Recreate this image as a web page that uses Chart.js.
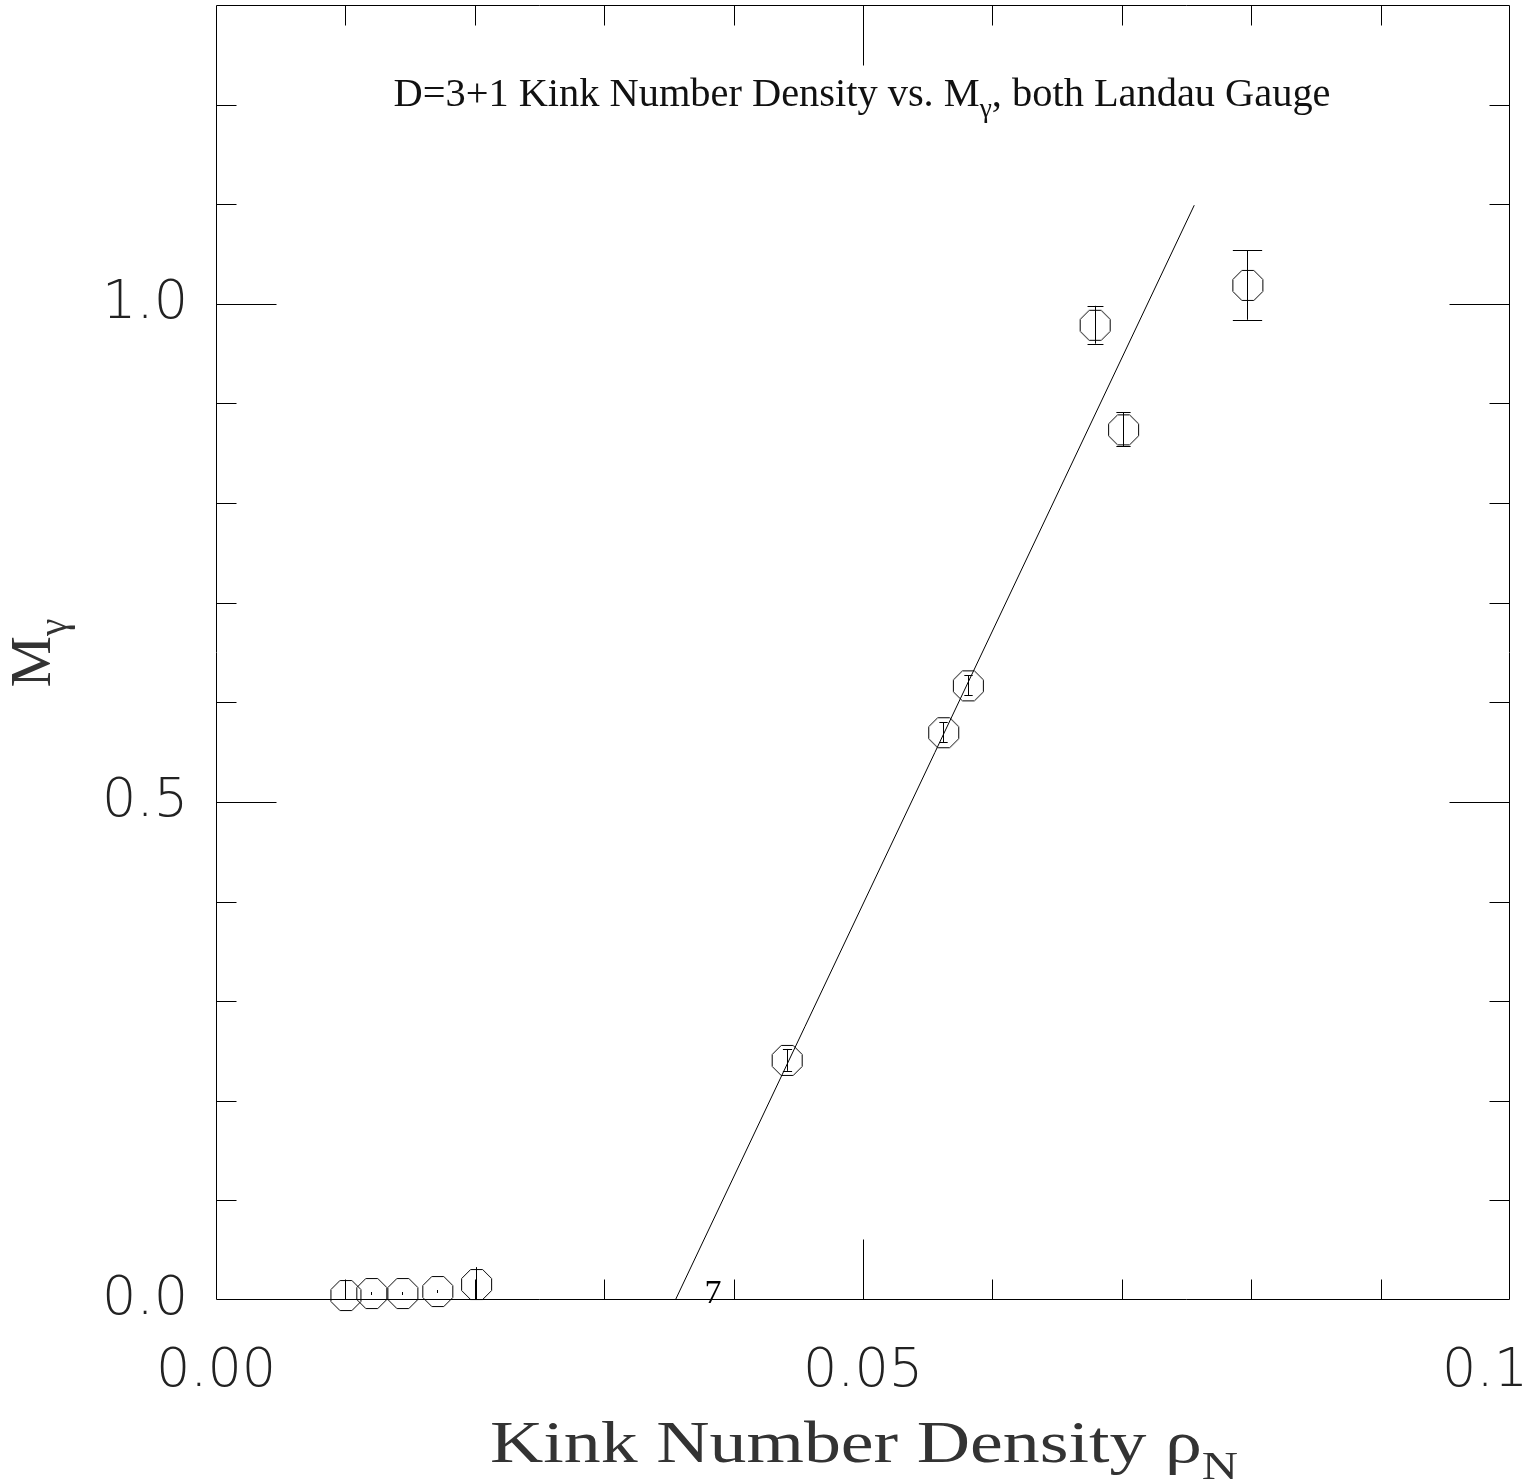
<!DOCTYPE html>
<html>
<head>
<meta charset="utf-8">
<script src="https://cdn.jsdelivr.net/npm/chart.js@4/dist/chart.umd.min.js"></script>
<style>
  html, body { margin: 0; padding: 0; background: #fff; }
  #chartKinkDensity { display: block; }
</style>
</head>
<body>
<canvas id="chartKinkDensity" width="1530" height="1479"></canvas>
<script>
/** Data: kink number density vs photon mass */
const kinkDensity   = [0.0100, 0.0120, 0.0144, 0.0171, 0.0201, 0.0441, 0.0562, 0.0581, 0.0679, 0.0701, 0.0797];
const photonMass    = [0.005, 0.007, 0.007, 0.009, 0.016, 0.241, 0.570, 0.617, 0.979, 0.874, 1.019];
const photonMassErr = [0.015, 0.001, 0.001, 0.001, 0.017, 0.011, 0.010, 0.010, 0.019, 0.017, 0.035];

/** straight line fit, two end points */
const fitX = [0.0355, 0.0756];
const fitY = [0.0, 1.099];

/** axis ticks and labels */
const xMinorTicks = [0.01, 0.02, 0.03, 0.04, 0.06, 0.07, 0.08, 0.09];
const xMajorTicks = [0.05];
const yMinorTicks = [0.1, 0.2, 0.3, 0.4, 0.6, 0.7, 0.8, 0.9, 1.1, 1.2];
const yMajorTicks = [0.5, 1.0];
const xTickValues = [0.0, 0.05, 0.1];
const xTickLabels = ['0.00', '0.05', '0.1'];
const yTickValues = [0.0, 0.5, 1.0];
const yTickLabels = ['0.0', '0.5', '1.0'];

/** stray marker label near the axis */
const strayLabel = { x: 0.0384, y: 0.0, text: '7' };

const titleParts  = [['D=3+1 Kink Number Density vs. M', false], ['γ', true], [', both Landau Gauge', false]];
const xTitleParts = [['Kink Number Density ', false], ['ρ', false], ['N', true]];
const yTitleParts = [['M', false], ['γ', true]];

const SERIF = '"Liberation Serif", "DejaVu Serif", serif';
const NUMFONT = '"DejaVu Sans", "Liberation Sans", sans-serif';

/** octagon marker used as point style */
function makeOctagon(size, r) {
  const c = document.createElement('canvas');
  c.width = size; c.height = size;
  const g = c.getContext('2d');
  g.strokeStyle = '#000';
  g.lineWidth = 1;
  g.beginPath();
  for (let k = 0; k < 8; k++) {
    const a = (22.5 + 45 * k) * Math.PI / 180;
    const px = Math.round(size / 2 + r * Math.cos(a)) + 0.5;
    const py = Math.round(size / 2 + r * Math.sin(a)) + 0.5;
    if (k === 0) g.moveTo(px, py); else g.lineTo(px, py);
  }
  g.closePath();
  g.stroke();
  return c;
}
const _octagon = makeOctagon(34, 15.8);

/** text with subscripts, squeezed to a given width if asked */
function drawRich(ctx, parts, x, y, size, family, width) {
  const subSize = size * 0.68;
  let total = 0;
  const widths = parts.map(([t, sub]) => {
    ctx.font = (sub ? subSize : size) + 'px ' + family;
    const w = ctx.measureText(t).width;
    total += w;
    return w;
  });
  const sx = width ? width / total : 1;
  ctx.save();
  ctx.translate(x, y);
  ctx.scale(sx, 1);
  ctx.textAlign = 'left';
  ctx.textBaseline = 'alphabetic';
  let cx = -total / 2;
  parts.forEach(([t, sub], i) => {
    ctx.font = (sub ? subSize : size) + 'px ' + family;
    ctx.fillText(t, cx, sub ? size * 0.28 : 0);
    cx += widths[i];
  });
  ctx.restore();
}

/** error bars, drawn through the scales */
const errorBarPlugin = {
  id: 'errorBars',
  afterDatasetsDraw(chart) {
    const ctx = chart.ctx;
    const xs = chart.scales.x, ys = chart.scales.y;
    const area = chart.chartArea;
    ctx.save();
    ctx.strokeStyle = '#000';
    ctx.lineWidth = 1;
    kinkDensity.forEach((xv, i) => {
      const lo = photonMass[i] - photonMassErr[i];
      const hi = photonMass[i] + photonMassErr[i];
      const px = Math.round(xs.getPixelForValue(xv)) + 0.5;
      const yTop = ys.getPixelForValue(hi);
      const yBot = Math.min(ys.getPixelForValue(lo), area.bottom);
      ctx.beginPath();
      ctx.moveTo(px, yTop);
      ctx.lineTo(px, yBot);
      if (lo > 0) {
        const half = Math.max(0.21 * (yBot - yTop), 0.5);
        ctx.moveTo(px - half, Math.round(yTop) + 0.5);
        ctx.lineTo(px + half, Math.round(yTop) + 0.5);
        ctx.moveTo(px - half, Math.round(yBot) + 0.5);
        ctx.lineTo(px + half, Math.round(yBot) + 0.5);
      }
      ctx.stroke();
    });
    ctx.restore();
  }
};

/** frame, inward ticks, tick labels and titles */
const framePlugin = {
  id: 'frame',
  afterDraw(chart) {
    const ctx = chart.ctx;
    const xs = chart.scales.x, ys = chart.scales.y;
    const a = chart.chartArea;
    const L = a.left + 0.5, R = a.right - 0.5, T = a.top + 0.5, B = a.bottom - 0.5;
    ctx.save();
    ctx.strokeStyle = '#000';
    ctx.lineWidth = 1;
    ctx.beginPath();
    ctx.rect(L, T, R - L, B - T);
    const xTick = (v, len) => {
      const p = Math.round(xs.getPixelForValue(v)) + 0.5;
      ctx.moveTo(p, B); ctx.lineTo(p, B - len);
      ctx.moveTo(p, T); ctx.lineTo(p, T + len);
    };
    const yTick = (v, len) => {
      const p = Math.round(ys.getPixelForValue(v)) + 0.5;
      ctx.moveTo(L, p); ctx.lineTo(L + len, p);
      ctx.moveTo(R, p); ctx.lineTo(R - len, p);
    };
    xMinorTicks.forEach(v => xTick(v, 20));
    xMajorTicks.forEach(v => xTick(v, 60));
    yMinorTicks.forEach(v => yTick(v, 20));
    yMajorTicks.forEach(v => yTick(v, 60));
    ctx.stroke();

    ctx.fillStyle = '#222';
    ctx.font = '200 54px ' + NUMFONT;
    ctx.textBaseline = 'middle';
    ctx.textAlign = 'right';
    yTickValues.forEach((v, i) => {
      ctx.fillText(yTickLabels[i], a.left - 28, ys.getPixelForValue(v));
    });
    ctx.textAlign = 'center';
    xTickValues.forEach((v, i) => {
      let p = xs.getPixelForValue(v);
      const w = ctx.measureText(xTickLabels[i]).width;
      if (p + w / 2 > chart.width - 2) p = chart.width - 2 - w / 2;
      ctx.fillText(xTickLabels[i], p, a.bottom + 72);
    });

    // stray label
    ctx.fillStyle = '#000';
    ctx.font = '34px ' + SERIF;
    ctx.textBaseline = 'alphabetic';
    ctx.fillText(strayLabel.text, xs.getPixelForValue(strayLabel.x), ys.getPixelForValue(strayLabel.y) + 3);

    // titles
    ctx.fillStyle = '#111';
    drawRich(ctx, titleParts, 862, 106, 40, SERIF, 937);
    ctx.fillStyle = '#333';
    drawRich(ctx, xTitleParts, 864, 1462, 60, SERIF, 748);
    ctx.save();
    ctx.translate(50, 653);
    ctx.rotate(-Math.PI / 2);
    drawRich(ctx, yTitleParts, 0, 0, 58, SERIF, 0);
    ctx.restore();
    ctx.restore();
  }
};

/** Draw scatter of kink density with error bars and fit line
 *  find to canvas id chartKinkDensity
 */
const _chartKinkDensity = document.getElementById('chartKinkDensity');

new Chart(_chartKinkDensity, {
  type: 'scatter',
  data: {
    datasets: [
      {
        label: 'M_gamma',
        data: kinkDensity.map((x, i) => ({ x: x, y: photonMass[i] })),
        pointStyle: _octagon,
        pointRadius: 16,
        showLine: false,
        clip: false
      },
      {
        label: 'fit',
        data: fitX.map((x, i) => ({ x: x, y: fitY[i] })),
        showLine: true,
        borderColor: '#000',
        borderWidth: 1,
        pointRadius: 0,
        fill: false
      }
    ]
  },
  options: {
    responsive: false,
    animation: false,
    devicePixelRatio: 1,
    layout: { autoPadding: false, padding: { left: 216, right: 20, top: 5, bottom: 179 } },
    plugins: { legend: { display: false }, tooltip: { enabled: false } },
    scales: {
      x: { type: 'linear', min: 0, max: 0.1, display: false },
      y: { type: 'linear', min: 0, max: 1.3, display: false }
    }
  },
  plugins: [errorBarPlugin, framePlugin]
});
</script>
</body>
</html>
